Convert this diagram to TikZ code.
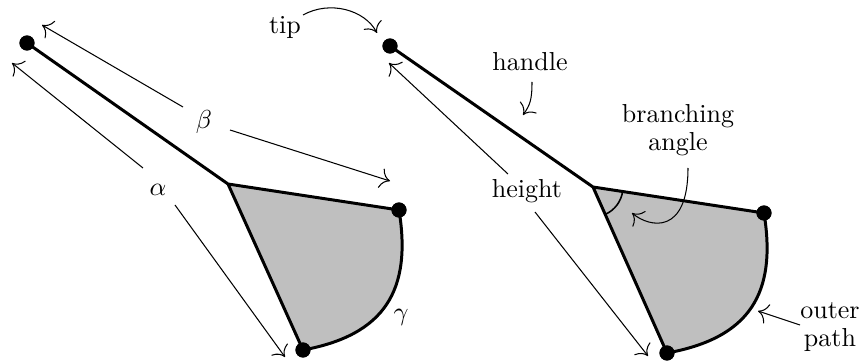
\documentclass[tikz,border=0pt]{standalone}
\usetikzlibrary{arrows.meta}
\begin{document}
\begin{tikzpicture}[x=0.3846pt,y=-0.3846pt,
  dot/.style={circle,fill=black,inner sep=0pt,minimum size=5.8pt},
  edge/.style={line width=1.15pt,line join=round},
  lab/.style={font=\fontsize{10}{11}\selectfont,inner sep=1pt},
  arr/.style={line width=0.4pt,-{To[scale=1.5]}},
  shade/.style={fill=black!25}]
\useasboundingbox (0,0) rectangle (863,364);
% ---------- left figure ----------
\begin{scope}
  \coordinate (J) at (228,184);
  \fill[shade] (J) -- (399,210) .. controls (412,290) and (385,335) .. (303,350) -- cycle;
  \node[dot] (T) at (27,43) {};
  \node[dot] (R) at (399,210) {};
  \node[dot] (B) at (303,350) {};
  \draw[edge] (T.center) -- (J) -- (R.center) .. controls (412,290) and (385,335) .. (B.center) -- (J);
  \node[dot] at (T) {};
  \node[dot] at (R) {};
  \node[dot] at (B) {};
  \node[lab] (al) at (158,190) {$\alpha$};
  \node[lab] (be) at (204,122) {$\beta$};
  \node[lab] (ga) at (401,317) {$\gamma$};
  \coordinate (a1s) at (143,168); \coordinate (a1e) at (12,63);
  \coordinate (a2s) at (175,205); \coordinate (a2e) at (285,357);
  \coordinate (b1s) at (183,107); \coordinate (b1e) at (42,25);
  \coordinate (b2s) at (230,130); \coordinate (b2e) at (390,181);
  \draw[arr] (a1s) -- (a1e);
  \draw[arr] (a2s) -- (a2e);
  \draw[arr] (b1s) -- (b1e);
  \draw[arr] (b2s) -- (b2e);
\end{scope}
% ---------- right figure ----------
\begin{scope}[shift={(365,3)}]
  \coordinate (J2) at (228,184);
  \fill[shade] (J2) -- (399,210) .. controls (412,290) and (385,335) .. (303,350) -- cycle;
  \node[dot] (T2) at (25,43) {};
  \node[dot] (R2) at (399,210) {};
  \node[dot] (B2) at (302,350) {};
  \draw[edge] (T2.center) -- (J2) -- (R2.center) .. controls (412,290) and (385,335) .. (B2.center) -- (J2);
  \node[dot] at (T2) {};
  \node[dot] at (R2) {};
  \node[dot] at (B2) {};
  \draw[line width=0.6pt] ([shift={(8.3:30)}]J2) arc[start angle=8.3,end angle=65.8,radius=30];
\end{scope}
\node[lab] (tip) at (285,27) {tip};
\node[lab] (han) at (530,62) {handle};
\node[lab] (hei) at (527,191) {height};
\node[lab,align=center] (bra) at (678,130) {branching\\angle};
\node[lab,align=center] (out) at (830,327) {outer\\path};
\coordinate (tipS) at (303,15); \coordinate (tipE) at (377,33);
\coordinate (hanS) at (532,82); \coordinate (hanE) at (523,115);
\coordinate (h1s) at (508,174); \coordinate (h1e) at (389,63);
\coordinate (h2s) at (535,212); \coordinate (h2e) at (648,356);
\coordinate (braS) at (688,168); \coordinate (braE) at (632,213);
\coordinate (outS) at (800,325); \coordinate (outE) at (758,311);
\draw[arr] (tipS) .. controls (330,0) and (365,10) .. (tipE);
\draw[arr] (hanS) .. controls (532,100) and (530,105) .. (hanE);
\draw[arr] (h1s) -- (h1e);
\draw[arr] (h2s) -- (h2e);
\draw[arr] (braS) .. controls (688,235) and (650,228) .. (braE);
\draw[arr] (outS) -- (outE);
\end{tikzpicture}
\end{document}
